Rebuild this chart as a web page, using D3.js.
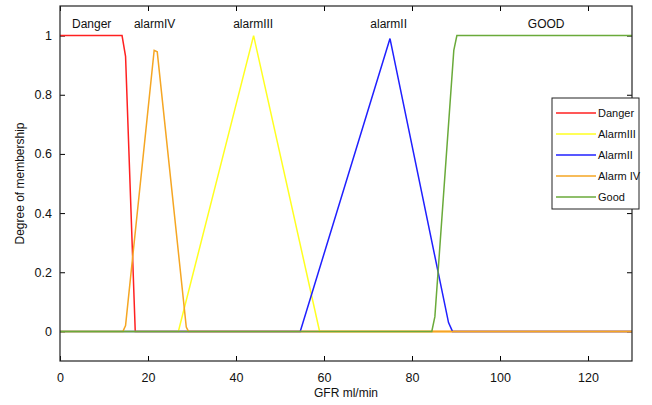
<!DOCTYPE html>
<html>
<head>
<meta charset="utf-8">
<script src="https://cdn.jsdelivr.net/npm/d3@7"></script>
<style>
  body { margin: 0; background: #fff; }
  text { font-family: "Liberation Sans", Arial, sans-serif; fill: #111; }
</style>
</head>
<body>
<div class="container"></div>
<script>
// Data
const dangerX = [0, 14.1, 14.9, 17.1, 130];
const dangerY = [1, 1, 0.93, 0, 0];
const alarm3X = [0, 26.9, 44, 59, 130];
const alarm3Y = [0, 0, 1, 0, 0];
const alarm2X = [0, 54.6, 75, 88.3, 89.2, 130];
const alarm2Y = [0, 0, 0.99, 0.03, 0, 0];
const alarm4X = [0, 14.3, 14.9, 21.4, 22.1, 28.7, 29.2, 130];
const alarm4Y = [0, 0, 0.02, 0.95, 0.945, 0.015, 0, 0];
const goodX = [0, 84.5, 85.2, 89.5, 90.2, 130];
const goodY = [0, 0, 0.05, 0.95, 1, 1];

const seriesNames = ["Danger", "AlarmIII", "AlarmII", "Alarm IV", "Good"];
const seriesColors = ["#ff2020", "#ffff20", "#2020ff", "#f5a623", "#6aaa3a"];

const zoneLabels = ["Danger", "alarmIV", "alarmIII", "alarmII", "GOOD"];
const zoneLabelX = [7.2, 21.5, 43.9, 74.7, 110.5];

const xTicks = [0, 20, 40, 60, 80, 100, 120];
const yTicks = [0, 0.2, 0.4, 0.6, 0.8, 1];

const series = [
  dangerX.map((x, i) => [x, dangerY[i]]),
  alarm3X.map((x, i) => [x, alarm3Y[i]]),
  alarm2X.map((x, i) => [x, alarm2Y[i]]),
  alarm4X.map((x, i) => [x, alarm4Y[i]]),
  goodX.map((x, i) => [x, goodY[i]])
];

// Dimensions
const w = 652, h = 405;
const padLeft = 60, padRight = 632, padTop = 6, padBottom = 361;

const xScale = d3.scaleLinear().domain([0, 130]).range([padLeft, padRight]);
const yScale = d3.scaleLinear().domain([-0.1, 1.1]).range([padBottom, padTop]);

const svg = d3.select(".container")
  .append("svg")
  .attr("width", w)
  .attr("height", h);

// Axes (ticks pointing inward)
const fmt = d3.format("");
svg.append("g")
  .attr("transform", `translate(0,${padBottom})`)
  .call(d3.axisBottom(xScale).tickValues(xTicks).tickSizeInner(-5).tickSizeOuter(0).tickPadding(12).tickFormat(fmt))
  .call(g => g.select(".domain").remove())
  .call(g => g.selectAll("text").style("font-size", "12.5px").style("font-family", "Liberation Sans, Arial"));

svg.append("g")
  .attr("transform", `translate(0,${padTop})`)
  .call(d3.axisTop(xScale).tickValues(xTicks).tickSizeInner(-5).tickSizeOuter(0).tickFormat(""))
  .call(g => g.select(".domain").remove());

svg.append("g")
  .attr("transform", `translate(${padLeft},0)`)
  .call(d3.axisLeft(yScale).tickValues(yTicks).tickSizeInner(-5).tickSizeOuter(0).tickPadding(8).tickFormat(d3.format("")))
  .call(g => g.select(".domain").remove())
  .call(g => g.selectAll("text").style("font-size", "12.5px").style("font-family", "Liberation Sans, Arial"));

svg.append("g")
  .attr("transform", `translate(${padRight},0)`)
  .call(d3.axisRight(yScale).tickValues(yTicks).tickSizeInner(-5).tickSizeOuter(0).tickFormat(""))
  .call(g => g.select(".domain").remove());

// Curves
const line = d3.line().x(d => xScale(d[0])).y(d => yScale(d[1]));
svg.selectAll(".curve")
  .data(series)
  .enter()
  .append("path")
  .attr("class", "curve")
  .attr("d", line)
  .attr("fill", "none")
  .attr("stroke", (d, i) => seriesColors[i])
  .attr("stroke-width", 1.5);

// Plot frame
svg.append("rect")
  .attr("x", padLeft).attr("y", padTop)
  .attr("width", padRight - padLeft).attr("height", padBottom - padTop)
  .attr("fill", "none").attr("stroke", "#222").attr("stroke-width", 1.2);

// Zone labels
svg.selectAll(".zone")
  .data(zoneLabels)
  .enter()
  .append("text")
  .attr("class", "zone")
  .attr("x", (d, i) => xScale(zoneLabelX[i]))
  .attr("y", yScale(1.027))
  .style("text-anchor", "middle")
  .style("font-size", "12px")
  .text(d => d);

// Axis labels
svg.append("text")
  .attr("x", (padLeft + padRight) / 2)
  .attr("y", 397)
  .style("text-anchor", "middle")
  .style("font-size", "12px")
  .text("GFR ml/min");

svg.append("text")
  .attr("transform", `translate(24,${(padTop + padBottom) / 2}) rotate(-90)`)
  .style("text-anchor", "middle")
  .style("font-size", "12px")
  .text("Degree of membership");

// Legend
const lx = 552, ly = 98, rowH = 21;
const legend = svg.append("g").attr("id", "legend");
legend.append("rect")
  .attr("x", lx).attr("y", ly)
  .attr("width", 87).attr("height", 111)
  .attr("fill", "#fff").attr("stroke", "#222");

const item = legend.selectAll(".item")
  .data(seriesNames)
  .enter()
  .append("g")
  .attr("class", "item");

item.append("line")
  .attr("x1", lx + 4).attr("x2", lx + 44)
  .attr("y1", (d, i) => ly + 15 + i * rowH)
  .attr("y2", (d, i) => ly + 15 + i * rowH)
  .attr("stroke", (d, i) => seriesColors[i])
  .attr("stroke-width", 1.5);

item.append("text")
  .attr("x", lx + 46)
  .attr("y", (d, i) => ly + 15 + i * rowH)
  .attr("dy", "0.35em")
  .style("font-size", "11px")
  .text(d => d);
</script>
</body>
</html>
